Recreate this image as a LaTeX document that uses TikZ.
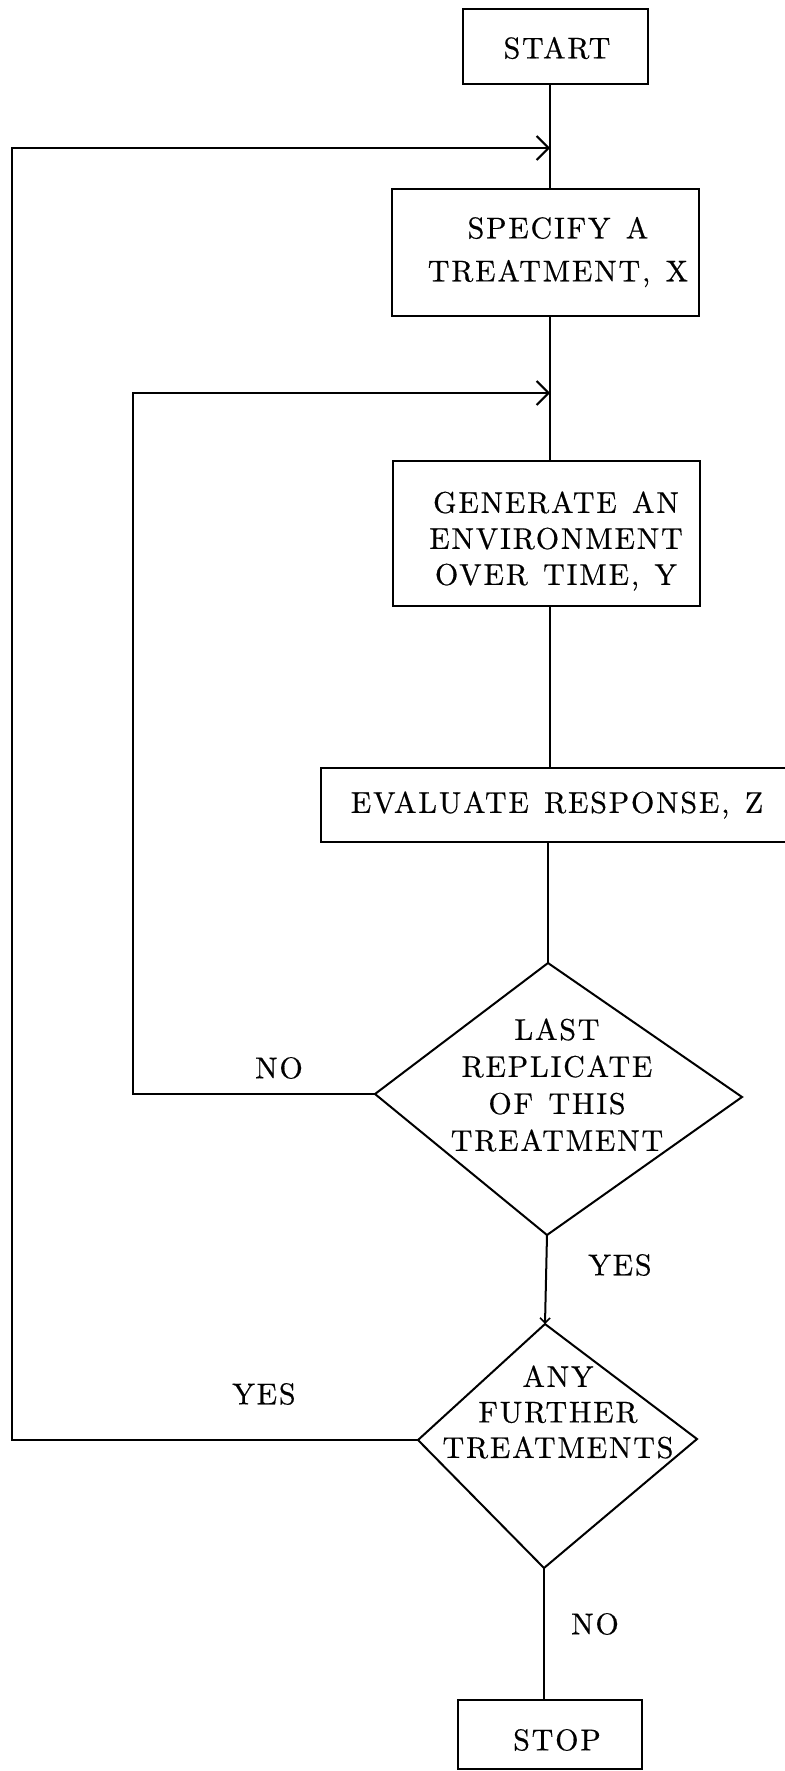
\documentclass[tikz,border=0pt]{standalone}
\usepackage{fontspec}
\setmainfont{lmroman10-regular}[Extension=.otf, LetterSpace=6, WordSpace=1.3, FakeBold=0.5]
\usetikzlibrary{arrows.meta}
\tikzset{
  txt/.style={font=\fontsize{15pt}{18pt}\selectfont, align=center, inner sep=0pt},
  box/.style={draw, line width=1pt, inner sep=0pt},
  shapeline/.style={line width=1pt, line join=miter},
  flow/.style={line width=1pt},
  barb/.style={-{Straight Barb[length=6pt,width=12pt,line width=1pt]}},
  smallbarb/.style={-{Straight Barb[length=2.5pt,width=5pt,line width=0.8pt]}},
}
\begin{document}
\begin{tikzpicture}[x=0.5pt,y=-0.5pt]
\useasboundingbox (0,0) rectangle (785,1771);
\fill[white] (0,0) rectangle (785,1771);

% main line x positions
\coordinate (m) at (550,0);
\coordinate (m2) at (548,0);
\coordinate (m3) at (544,0);

% boxes
\node[box, minimum width=92.5pt, minimum height=37.5pt] (start) at (555.5,46.5) {};
\node[txt] (starttxt) at (557,48) {START};

\node[box, minimum width=153.5pt, minimum height=63.5pt] (specify) at (545.5,252.5) {};
\node[txt, font=\fontsize{15pt}{21.5pt}\selectfont] (specifytxt) at (558,252) {SPECIFY A\\TREATMENT, X};

\node[box, minimum width=153.5pt, minimum height=72.5pt] (generate) at (546.5,533.5) {};
\node[txt] (generatetxt) at (556,541) {GENERATE AN\\ENVIRONMENT\\OVER TIME, Y};

\node[box, minimum width=234pt, minimum height=37pt] (evaluate) at (555,805) {};
\node[txt] (evaluatetxt) at (557,805) {EVALUATE RESPONSE, Z};

\node[box, minimum width=92pt, minimum height=34.5pt] (stop) at (550,1734.5) {};
\node[txt] (stoptxt) at (557,1740) {STOP};

% decision 1
\coordinate (d1t) at (548,963);
\coordinate (d1r) at (742,1097);
\coordinate (d1b) at (547,1235);
\coordinate (d1l) at (375,1094);
\draw[shapeline] (d1t) -- (d1r) -- (d1b) -- (d1l) -- cycle;
\node[txt, font=\fontsize{15pt}{18.5pt}\selectfont] (d1txt) at (557,1085) {LAST\\REPLICATE\\OF THIS\\TREATMENT};

% decision 2
\coordinate (d2t) at (545,1324);
\coordinate (d2r) at (697,1439);
\coordinate (d2b) at (544,1568);
\coordinate (d2l) at (418,1440);
\draw[shapeline] (d2t) -- (d2r) -- (d2b) -- (d2l) -- cycle;
\node[txt, font=\fontsize{15pt}{17.75pt}\selectfont] (d2txt) at (558,1412) {ANY\\FURTHER\\TREATMENTS};

% main flow
\draw[flow] (m |- start.south) -- (m |- specify.north);
\draw[flow] (m |- specify.south) -- (m |- generate.north);
\draw[flow] (m |- generate.south) -- (m |- evaluate.north);
\draw[flow] (m2 |- evaluate.south) -- (d1t);
\draw[flow, smallbarb] (d1b) -- (d2t);
\draw[flow] (d2b) -- (m3 |- stop.north);

% loops
\coordinate (o2) at (12,148);
\coordinate (oa) at (550,148);
\draw[flow, barb] (d2l) -| (o2) -- (oa);
\coordinate (i2) at (133,393);
\coordinate (ia) at (550,393);
\draw[flow, barb] (d1l) -| (i2) -- (ia);

% labels
\node[txt] (no1) at (279,1068) {NO};
\node[txt] (yes1) at (620,1265) {YES};
\node[txt] (yes2) at (264,1394) {YES};
\node[txt] (no2) at (595,1624) {NO};
\end{tikzpicture}
\end{document}
